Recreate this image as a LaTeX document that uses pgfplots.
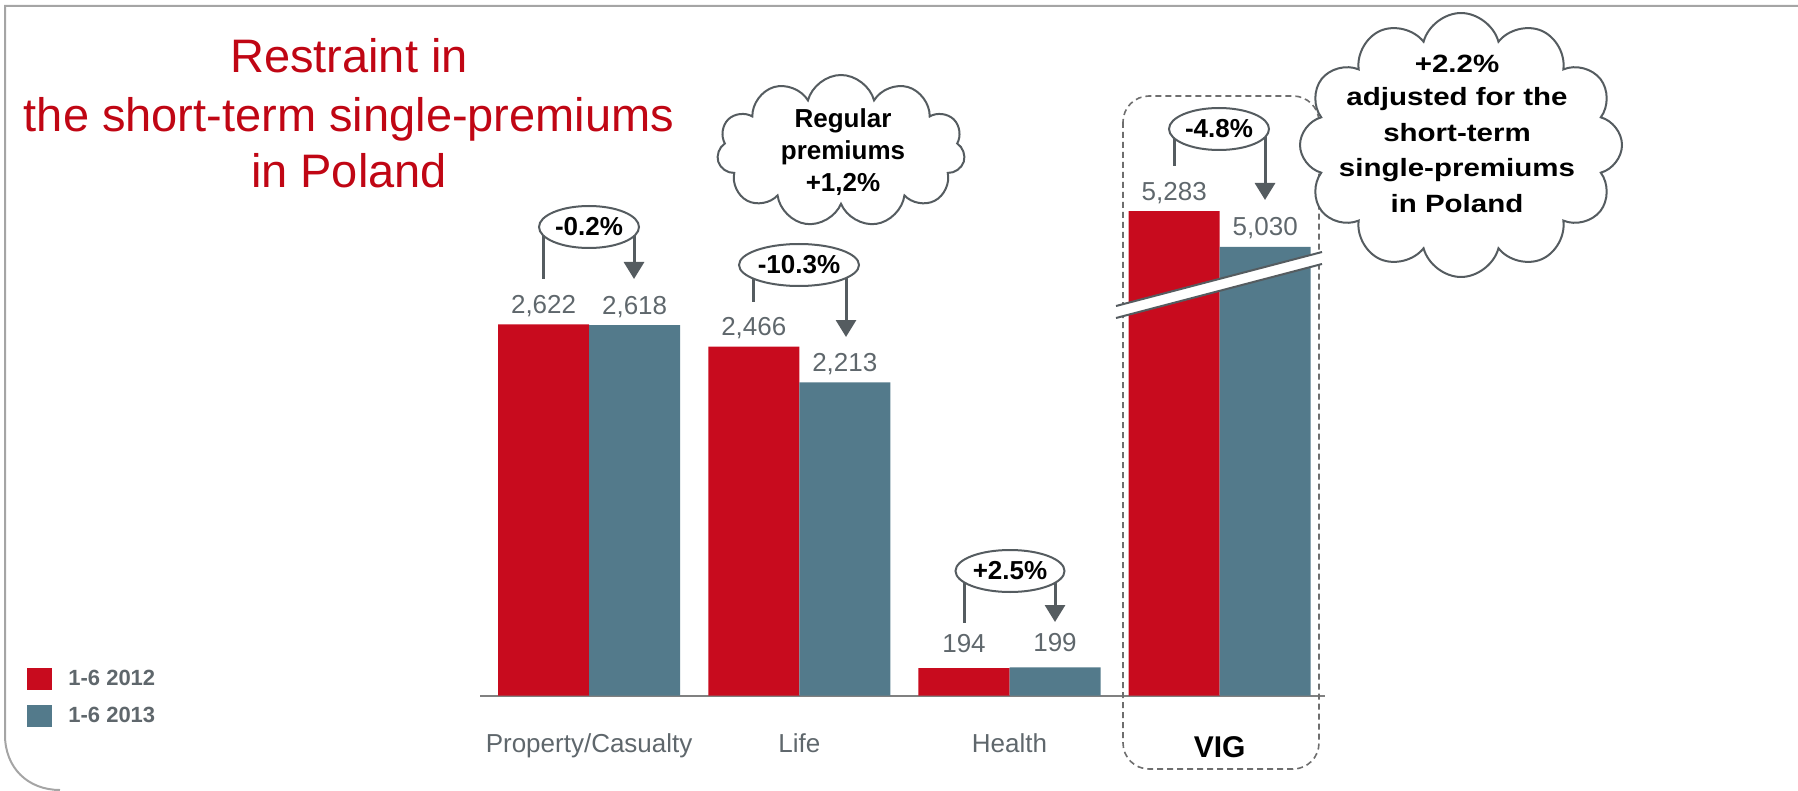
\documentclass[border=0pt]{standalone}
\usepackage{fontspec}
\setmainfont{Liberation Sans}
\newfontfamily\wideface[FakeStretch=1.18]{Liberation Sans}
\usepackage{pgfplots}
\pgfplotsset{compat=1.18}
\usetikzlibrary{shapes.symbols,shapes.geometric,arrows.meta}

\definecolor{barred}{RGB}{200,11,30}
\definecolor{barblue}{RGB}{83,122,139}
\definecolor{titlered}{RGB}{192,6,20}
\definecolor{lblgray}{RGB}{95,103,108}
\definecolor{arrgray}{RGB}{85,92,96}
\definecolor{axgray}{RGB}{128,128,128}
\definecolor{boxgray}{RGB}{110,110,110}
\definecolor{framegray}{RGB}{165,165,165}

\newcommand{\fs}[1]{\fontsize{#1}{#1}\selectfont}
% change bubble: cx cy width xleft yleft xright yright text
\newcommand{\chg}[8]{%
  \draw[arrgray,line width=1.5pt] (#4,#2) -- (#4,#5);
  \draw[arrgray,line width=1.5pt,-{Triangle[width=10pt,length=8.5pt]}] (#6,#2) -- (#6,#7);
  \node[ellipse,draw=arrgray,line width=1pt,fill=white,inner sep=0pt,
        minimum width=#3*0.5pt,minimum height=21pt,font=\fs{13}\bfseries] at (#1,#2) {#8};}

\begin{document}
\begin{tikzpicture}
% 1 unit = 1 px of the reference
\begin{scope}[x=0.5pt,y=-0.5pt]
\useasboundingbox (0,0) rectangle (1798,791);
\draw[framegray,line width=1pt] (1798,6) -- (5,6) -- (5,735) .. controls (5,768) and (28,790) .. (60,790);
\end{scope}

\begin{axis}[
  at={(240pt,-347.75pt)}, anchor=south west,
  scale only axis, width=422.5pt, height=283pt,
  xmin=-0.519, xmax=3.501, ymin=0, ymax=4000,
  ybar=0pt, bar width=45.5pt,
  axis y line=none, axis x line=bottom,
  x axis line style={-, draw=axgray, line width=1pt},
  xtick={0,1,2,3},
  xticklabels={Property/Casualty, Life, Health, {\raisebox{-2.5pt}{\fs{15}\bfseries\color{black}VIG}}},
  major tick length=0pt,
  xticklabel style={anchor=base, yshift=-28.25pt, font=\fs{13}, text=lblgray},
  nodes near coords, point meta=explicit symbolic,
  every node near coord/.append style={anchor=base, inner sep=0pt, yshift=5.5pt, font=\fs{13}, text=lblgray},
  clip=false,
  legend style={at={(-0.5361,0.0486)}, anchor=north west, draw=none, fill=none,
    inner sep=0pt, nodes={inner sep=0pt}, row sep=7.25pt, column sep=8pt,
    font=\fs{11}\bfseries, text=lblgray},
  legend cell align=left,
]
% VIG bars are shown with a break: drawn 1860 lower than their values
\addplot[fill=barred, draw=none,
  legend image code/.code={\fill[barred] (0pt,-5.5pt) rectangle (12.5pt,5.5pt);}]
  coordinates {(0,2622) [{2,622}] (1,2466) [{2,466}] (2,194) [{\raisebox{2.5pt}{194}}] (3,3423) [{5,283}]};
\addlegendentry{1-6 2012}
\addplot[fill=barblue, draw=none,
  legend image code/.code={\fill[barblue] (0pt,-5.5pt) rectangle (12.5pt,5.5pt);}]
  coordinates {(0,2618) [{2,618}] (1,2213) [{2,213}] (2,199) [{\raisebox{2.5pt}{199}}] (3,3170) [{5,030}]};
\addlegendentry{1-6 2013}
\end{axis}

\begin{scope}[x=0.5pt,y=-0.5pt]
% title
\node[anchor=base, text=titlered, font=\fs{23.5}] at (349,73) {Restraint in};
\node[anchor=base, text=titlered, font=\fs{23.5}] at (349,132) {the short-term single-premiums};
\node[anchor=base, text=titlered, font=\fs{23.5}] at (349,188) {in Poland};

% VIG frame and axis break
\draw[boxgray, line width=0.8pt, dash pattern=on 3pt off 2pt, rounded corners=13pt] (1123,96) rectangle (1319,769);
\fill[white] (1116,306) -- (1322,252) -- (1322,264) -- (1116,318) -- cycle;
\draw[arrgray, line width=1pt] (1116,306) -- (1322,252) (1116,318) -- (1322,264);

% changes
\chg{589}{227}{100}{543}{279}{634}{279}{-0.2\%}
\chg{799}{265}{120}{753}{302}{846}{337}{-10.3\%}
\chg{1010}{571}{109}{964}{623}{1055}{622}{+2.5\%}
\chg{1219}{129}{100}{1174}{166}{1265}{200}{-4.8\%}

% clouds
\node[cloud, cloud puffs=11, cloud ignores aspect, draw=arrgray, line width=1pt, fill=white,
      minimum width=124pt, minimum height=76pt] at (841,151) {};
\node[anchor=base, font=\fs{13}\bfseries] at (843,128) {Regular};
\node[anchor=base, font=\fs{13}\bfseries] at (843,160) {premiums};
\node[anchor=base, font=\fs{13}\bfseries] at (843,192) {+1,2\%};

\node[cloud, cloud puffs=12, cloud ignores aspect, draw=arrgray, line width=1pt, fill=white,
      minimum width=161pt, minimum height=132pt] at (1461,145) {};
\node[anchor=base, font=\wideface\fs{12.5}\bfseries] at (1457,73) {+2.2\%};
\node[anchor=base, font=\wideface\fs{12.5}\bfseries] at (1457,106) {adjusted for the};
\node[anchor=base, font=\wideface\fs{12.5}\bfseries] at (1457,142) {short-term};
\node[anchor=base, font=\wideface\fs{12.5}\bfseries] at (1457,177) {single-premiums};
\node[anchor=base, font=\wideface\fs{12.5}\bfseries] at (1457,213) {in Poland};
\end{scope}
\end{tikzpicture}
\end{document}
